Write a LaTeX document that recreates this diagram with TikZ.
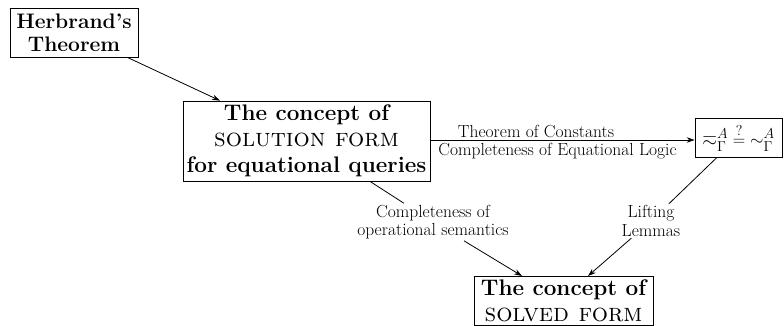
\documentclass[tikz,border=0pt]{standalone}
\usepackage{amssymb}
\usetikzlibrary{arrows.meta}
\begin{document}
\begin{tikzpicture}[x=1pt,y=-1pt,
  box/.style={draw,line width=0.8pt,inner sep=0pt,align=center},
  big/.style={font=\fontsize{22.5}{26}\selectfont\bfseries},
  lab/.style={font=\fontsize{17.5}{18.5}\selectfont,inner sep=1.5pt,align=center},
  conn/.style={line width=0.8pt},
  arr/.style={line width=0.8pt,-{Stealth[length=8pt,width=5.5pt]}}]
\useasboundingbox (0,0) rectangle (784,326);
% boxes
\node[box,minimum width=128pt,minimum height=49pt,
  font=\fontsize{21}{23}\selectfont\bfseries] (herb) at (74,32.5) {Herbrand's\\Theorem};
\node[box,minimum width=247pt,minimum height=80pt,big] (sol) at (306.5,141)
  {The concept of\\{\normalfont\fontsize{25.5}{26}\selectfont\scshape solution form}\\for equational queries};
\node[box,minimum width=87pt,minimum height=39pt,
  font=\fontsize{19}{21}\selectfont] (eq) at (738.5,137.5)
  {$\eqsim^A_\Gamma\;\stackrel{?}{=}\;\sim^A_\Gamma$};
\node[box,minimum width=179pt,minimum height=49pt,big,anchor=north] (solved) at (563.5,276)
  {The concept of\\{\normalfont\fontsize{25.5}{25}\selectfont\scshape solved form}};
% labels
\node[lab,anchor=base] (tc) at (536,137) {Theorem of Constants};
\node[lab,anchor=base] (ce) at (557.5,155.5) {Completeness of Equational Logic};
\node[lab] (co) at (433,222) {Completeness of\\operational semantics};
\node[lab] (ll) at (651,221) {Lifting\\Lemmas};
% connectors
\draw[arr] (herb) -- (sol);
\draw[arr] ([yshift=1pt]sol.east) coordinate (h1) -- (h1 -| eq.west);
\draw[conn] ([xshift=63.5pt]sol.south) -- (co);
\draw[arr] (co) -- ([xshift=-41.5pt]solved.north);
\draw[conn] ([xshift=-21.5pt]eq.south) -- (ll);
\draw[arr] (ll) -- ([xshift=24.5pt]solved.north);
\end{tikzpicture}
\end{document}
